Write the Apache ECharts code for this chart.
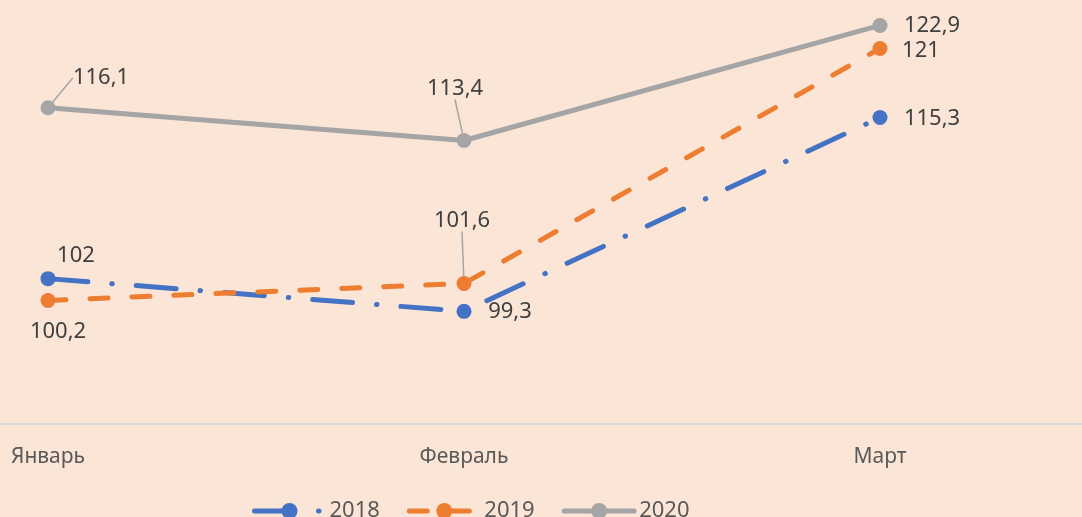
<!DOCTYPE html>
<html>
<head>
<meta charset="utf-8">
<script src="https://cdn.jsdelivr.net/npm/echarts@6/dist/echarts.min.js"></script>
<style>
html,body{margin:0;padding:0;background:#FBE5D6;}
#c{width:1082px;height:517px;}
</style>
</head>
<body>
<div id="c"></div>
<script>
const categories = ['Январь', 'Февраль', 'Март'];
const values2018 = [102, 99.3, 115.3];
const values2019 = [100.2, 101.6, 121];
const values2020 = [116.1, 113.4, 122.9];
const seriesNames = ['2018', '2019', '2020'];

// label offsets (center of label relative to point), per series per point
const labelOffsets = {
  '2018': [[28, -23], [46, 0], [52, 1]],
  '2019': [[10, 31], [-2, -63], [41, 2]],
  '2020': [[53, -30], [-9, -52], [52, 0]]
};
const leaderLines = {
  '2018': [false, false, false],
  '2019': [false, true, false],
  '2020': [true, true, false]
};

const fmt = v => String(v).replace('.', ',');
const FONT = 'Noto Sans';

function makeSeries(name, data, color, lineType) {
  const offs = labelOffsets[name];
  return {
    name: name,
    type: 'line',
    data: data.map((v, i) => ({ value: v, labelLine: { show: leaderLines[name][i] } })),
    symbol: 'circle',
    symbolSize: 15,
    itemStyle: { color: color },
    lineStyle: { color: color, width: 5, type: lineType, cap: 'round' },
    label: {
      show: true,
      position: 'inside',
      formatter: p => fmt(p.value),
      color: '#404040',
      fontFamily: FONT,
      fontSize: 22
    },
    labelLine: { show: true, lineStyle: { color: '#A5A5A5', width: 1.5 }, minTurnAngle: 90 },
    labelLayout: function (params) {
      const o = offs[params.dataIndex];
      return { dx: o[0], dy: o[1] };
    },
    z: name === '2020' ? 2 : 3
  };
}

const chart = echarts.init(document.getElementById('c'));
chart.setOption({
  backgroundColor: '#FBE5D6',
  animation: false,
  grid: { left: -160, right: -6, top: 0, bottom: 93, outerBoundsMode: 'none', containLabel: false },
  legend: {
    bottom: -10,
    left: 247,
    itemWidth: 70,
    itemHeight: 20,
    itemGap: 27,
    lineStyle: { width: 5, cap: 'round' },
    textStyle: { color: '#595959', fontFamily: FONT, fontSize: 22 },
    data: seriesNames
  },
  xAxis: {
    type: 'category',
    data: categories,
    boundaryGap: true,
    axisLine: { lineStyle: { color: '#D9D9D9', width: 2 } },
    axisTick: { show: false },
    axisLabel: { color: '#595959', fontFamily: FONT, fontSize: 21, margin: 23 }
  },
  yAxis: {
    type: 'value',
    min: 90,
    max: 125,
    show: false,
    splitLine: { show: false }
  },
  series: [
    makeSeries('2018', values2018, '#4472C4', [40, 24, 0.5, 24]),
    makeSeries('2019', values2019, '#ED7D31', [18, 24]),
    makeSeries('2020', values2020, '#A5A5A5', 'solid')
  ]
});
</script>
</body>
</html>
